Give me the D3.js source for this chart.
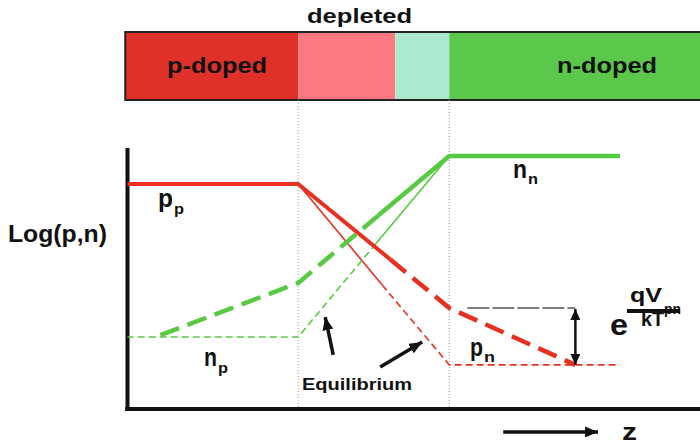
<!DOCTYPE html>
<html>
<head>
<meta charset="utf-8">
<script src="https://cdn.jsdelivr.net/npm/d3@7"></script>
<style>
  html, body { margin: 0; padding: 0; background: #fff; }
  svg { display: block; font-family: "Liberation Sans", Arial, sans-serif; }
</style>
</head>
<body>
<svg id="chart" width="700" height="445"></svg>
<script>
// Doping regions along z (depletion zone spans z = -1 .. 1)
const regionNames  = ["p-doped", "", "", "n-doped"];
const regionEdges  = [-3.29, -1, 0.285, 1, 4.4];
const regionColors = ["#e0302a", "#fe7a80", "#acebd0", "#5bc84b"];
const junctionEdges = [-1, 1];

// log carrier concentration, forward bias (thick) — [z, log c]
const holesBiasSolid      = [[-3.26, 8.62], [-1, 8.62], [0.22, 5.73]];
const holesBiasDashed     = [[0.22, 5.73], [1, 3.87], [2.67, 1.69]];
const electronsBiasSolid  = [[3.26, 9.69], [1, 9.69], [0.06, 7.41]];
const electronsBiasDashed = [[0.06, 7.41], [-1, 4.83], [-2.89, 2.76]];

// log carrier concentration, equilibrium (thin)
const holesEqSolid      = [[-1, 8.62], [0.11, 4.76]];
const holesEqDashed     = [[0.11, 4.76], [1, 1.69], [3.26, 1.69]];
const electronsEqSolid  = [[1, 9.69], [0.03, 6.34]];
const electronsEqDashed = [[0.03, 6.34], [-1, 2.76], [-3.26, 2.76]];

// injected minority excess at the n-side edge: exp(qV/kT)
const excessLevels = [3.87, 1.69];
const excessSpan   = [1.24, 2.67];

// pointers to the equilibrium curves
const eqPointers = [
  [[-0.536, 2.07], [-0.642, 3.52]],
  [[0.086, 1.61], [0.642, 2.57]]
];
const zArrow = [[1.715, -0.88], [2.97, -0.88]];

const RED = "#e8301f", GREEN = "#58c943", INK = "#111";

const svg = d3.select("#chart");
const x = d3.scaleLinear().domain([-3.26, 4.32]).range([127.5, 700]);
const y = d3.scaleLinear().domain([0, 10]).range([409, 148]);
const line = d3.line().x(d => x(d[0])).y(d => y(d[1]));

const defs = svg.append("defs");
function head(id, w, h) {
  defs.append("marker").attr("id", id)
    .attr("viewBox", `0 0 ${w} ${h}`).attr("refX", w).attr("refY", h / 2)
    .attr("markerUnits", "userSpaceOnUse")
    .attr("markerWidth", w).attr("markerHeight", h).attr("orient", "auto-start-reverse")
    .append("path").attr("d", `M0,0L${w},${h / 2}L0,${h}Z`).attr("fill", INK);
}
head("ah", 13, 11);
head("ahs", 11, 10);

// ---- doping bar ----
const bar = svg.append("g");
bar.selectAll("rect.region").data(regionColors).join("rect")
  .attr("class", "region")
  .attr("x", (d, i) => x(regionEdges[i]))
  .attr("width", (d, i) => x(regionEdges[i + 1]) - x(regionEdges[i]))
  .attr("y", 32).attr("height", 68).attr("fill", d => d);
bar.append("rect")
  .attr("x", x(regionEdges[0])).attr("width", x(regionEdges[4]) - x(regionEdges[0]))
  .attr("y", 32).attr("height", 68)
  .attr("fill", "none").attr("stroke", "#222").attr("stroke-width", 2);

const txt = (s, px, py, size, len, weight = "bold") =>
  svg.append("text").attr("x", px).attr("y", py)
    .attr("font-size", size).attr("font-weight", weight).attr("fill", INK)
    .attr("textLength", len).attr("lengthAdjust", "spacingAndGlyphs").text(s);

txt(regionNames[0], 167, 73, 22, 100);
txt(regionNames[3], 557, 73, 22, 100);
txt("depleted", 307, 23, 21, 105);

// ---- junction guides ----
svg.selectAll("line.edge").data(junctionEdges).join("line")
  .attr("class", "edge")
  .attr("x1", d => x(d)).attr("x2", d => x(d))
  .attr("y1", 100).attr("y2", y(0))
  .attr("stroke", "#9a9a9a").attr("stroke-width", 1).attr("stroke-dasharray", "1,2");

// ---- axes ----
const gx = svg.append("g").attr("transform", `translate(0,${y(0)})`)
  .call(d3.axisBottom(x).tickValues([]).tickSizeOuter(0));
const gy = svg.append("g").attr("transform", `translate(${x(-3.26)},0)`)
  .call(d3.axisLeft(y).tickValues([]).tickSizeOuter(0));
[gx, gy].forEach(g => g.select(".domain").attr("stroke", INK).attr("stroke-width", 4));
gx.select(".domain").attr("d", `M${x(-3.29)},0H700`);
gy.select(".domain").attr("d", `M0,${y(0) + 2}V${y(10)}`);

// ---- curves ----
const curves = [
  { d: holesEqSolid,       c: RED,   w: 1.6 },
  { d: holesEqDashed,      c: RED,   w: 1.6, dash: "7,4" },
  { d: electronsEqSolid,   c: GREEN, w: 1.6 },
  { d: electronsEqDashed,  c: GREEN, w: 1.6, dash: "7,4" },
  { d: electronsBiasSolid, c: GREEN, w: 4.5 },
  { d: electronsBiasDashed,c: GREEN, w: 4.5, dash: "20,9" },
  { d: holesBiasSolid,     c: RED,   w: 4 },
  { d: holesBiasDashed,    c: RED,   w: 4.5, dash: "20,9" }
];
svg.selectAll("path.curve").data(curves).join("path")
  .attr("class", "curve")
  .attr("d", d => line(d.d))
  .attr("fill", "none").attr("stroke", d => d.c).attr("stroke-width", d => d.w)
  .attr("stroke-dasharray", d => d.dash || null)
  .attr("stroke-linejoin", "round");

// ---- exp(qV/kT) annotation ----
svg.append("line")
  .attr("x1", x(excessSpan[0])).attr("x2", x(excessSpan[1]))
  .attr("y1", y(excessLevels[0])).attr("y2", y(excessLevels[0]))
  .attr("stroke", "#555").attr("stroke-width", 1.5).attr("stroke-dasharray", "22,3");
svg.append("line")
  .attr("x1", x(excessSpan[1])).attr("x2", x(excessSpan[1]))
  .attr("y1", y(excessLevels[0]) + 1).attr("y2", y(excessLevels[1]))
  .attr("stroke", INK).attr("stroke-width", 2.5)
  .attr("marker-start", "url(#ahs)").attr("marker-end", "url(#ahs)");

// ---- pointer arrows ----
svg.selectAll("path.ptr").data(eqPointers.concat([zArrow])).join("path")
  .attr("class", "ptr").attr("d", line)
  .attr("fill", "none").attr("stroke", INK).attr("stroke-width", 3.5)
  .attr("marker-end", "url(#ah)");

// ---- labels ----
txt("Log(p,n)", 8, 242, 23, 99);
txt("Equilibrium", 302, 390, 17, 110);

function sub(main, s, px, py, len1, len2, dy) {
  txt(main, px, py, 25, len1);
  txt(s, px + len1 + 1, py + dy, 14, len2);
}
sub("p", "p", 158, 207, 15, 10, 7);
sub("n", "p", 204, 366, 13, 10, 7);
sub("n", "n", 513, 178, 14, 10, 6);
sub("p", "n", 470, 356, 13, 11, 6);

txt("z", 622, 440, 24, 15);

// e^(qV_pn / kT)
txt("e", 610, 335, 30, 18);
txt("qV", 630, 302, 21, 32);
txt("pn", 664, 314, 14, 17);
svg.append("rect").attr("x", 627).attr("y", 309).attr("width", 53).attr("height", 4).attr("fill", INK);
txt("kT", 641, 326, 21, 23);
</script>
</body>
</html>
